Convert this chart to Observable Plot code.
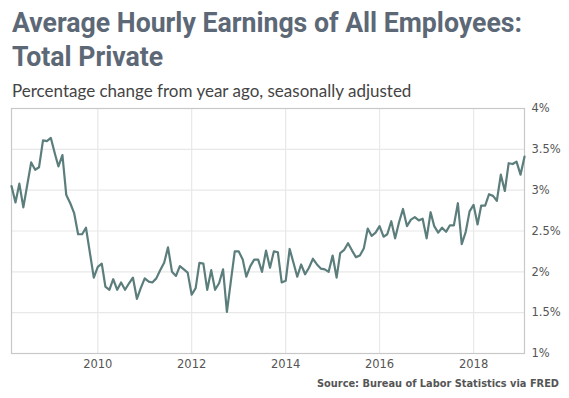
<!DOCTYPE html>
<html><head><meta charset="utf-8">
<script src="https://cdn.jsdelivr.net/npm/d3@7"></script>
<script src="https://cdn.jsdelivr.net/npm/@observablehq/plot@0.6"></script>
<style>
body{margin:0;background:#fff;width:569px;height:398px;overflow:hidden;position:relative;font-family:Lato,sans-serif}
#title{position:absolute;left:12px;top:6px;font-family:Roboto,sans-serif;font-weight:700;font-size:28px;line-height:34px;color:#5d6877;transform-origin:0 0;white-space:nowrap}
#sub{position:absolute;left:12px;top:79px;font-size:17px;line-height:24px;color:#444;font-family:Lato,sans-serif;white-space:nowrap}
#chart{position:absolute;left:0;top:100px}
#src{position:absolute;left:317px;top:378px;font-family:"DejaVu Sans",sans-serif;font-size:10px;font-weight:700;color:#555;white-space:nowrap;transform-origin:0 0}
</style></head>
<body>
<div id="title"><span id="t1">Average Hourly Earnings of All Employees:</span><br>Total Private</div>
<div id="sub">Percentage change from year ago, seasonally adjusted</div>
<div id="chart"></div>
<div id="src">Source: Bureau of Labor Statistics via FRED</div>
<script>
const startMonth = "2008-03-01";
const v2008 = [3.05,2.85,3.08,2.79,3.06,3.34,3.25,3.28,3.61,3.60];
const v2009 = [3.64,3.45,3.29,3.43,2.94,2.84,2.72,2.46,2.46,2.54,2.23,1.93];
const v2010 = [2.06,2.10,1.82,1.78,1.91,1.78,1.87,1.78,1.86,1.93,1.67,1.80];
const v2011 = [1.92,1.88,1.87,1.92,2.02,2.11,2.30,2.00,1.95,2.07,2.03,1.99];
const v2012 = [1.72,1.80,2.11,2.10,1.78,2.02,1.78,1.86,2.03,1.51,1.89,2.25];
const v2013 = [2.25,2.15,1.94,2.07,2.15,2.15,2.00,2.26,2.05,2.25,2.24,1.87];
const v2014 = [1.89,2.28,2.12,1.94,2.09,1.97,2.05,2.16,2.09,2.04,2.03,2.00];
const v2015 = [2.20,1.93,2.23,2.27,2.35,2.26,2.18,2.20,2.29,2.53,2.44,2.48];
const v2016 = [2.56,2.43,2.46,2.62,2.41,2.61,2.77,2.56,2.64,2.67,2.63,2.65];
const v2017 = [2.41,2.73,2.56,2.48,2.54,2.49,2.57,2.57,2.84,2.34,2.49,2.74];
const v2018 = [2.82,2.58,2.81,2.81,2.95,2.93,2.87,3.19,2.99,3.33,3.32,3.35];
const v2019 = [3.19,3.41];
const xTickYears = [2010, 2012, 2014, 2016, 2018];
const yTicks = [1, 1.5, 2, 2.5, 3, 3.5, 4];

const values = [].concat(v2008,v2009,v2010,v2011,v2012,v2013,v2014,v2015,v2016,v2017,v2018,v2019);
const start = new Date(startMonth + "T00:00:00Z");
const data = values.map((v, i) => ({date: d3.utcMonth.offset(start, i), value: v}));
const xTicks = xTickYears.map(y => new Date(Date.UTC(y, 0, 1)));

const chart = Plot.plot({
  width: 569,
  height: 280,
  marginTop: 8,
  marginBottom: 27,
  marginLeft: 11,
  marginRight: 45,
  style: {fontFamily: "'DejaVu Sans', sans-serif", fontSize: "11.5px", color: "#555", background: "#fff"},
  x: {type: "utc", domain: [data[0].date, data[data.length - 1].date]},
  y: {domain: [1, 4]},
  marks: [
    Plot.gridX(xTicks, {stroke: "#e8e8e8", strokeOpacity: 1, strokeWidth: 1.2}),
    Plot.gridY(yTicks, {stroke: "#e8e8e8", strokeOpacity: 1, strokeWidth: 1.2}),
    Plot.frame({stroke: "#c8c8c8", strokeWidth: 1.2}),
    Plot.axisX(xTicks, {tickSize: 0, tickPadding: 6, tickFormat: d => String(d.getUTCFullYear()), fill: "#555", label: null}),
    Plot.axisY(yTicks, {anchor: "right", tickSize: 0, tickPadding: 7, tickFormat: d => d + "%", fill: "#555", label: null}),
    Plot.lineY(data, {x: "date", y: "value", stroke: "#5b7e7c", strokeWidth: 2.2})
  ]
});
document.getElementById("chart").appendChild(chart);

// fit title and source widths to the reference
function fit(el, measureEl, target) {
  const w = measureEl.getBoundingClientRect().width;
  if (w > 0) el.style.transform = "scaleX(" + (target / w) + ")";
}
fit(document.getElementById("title"), document.getElementById("t1"), 510);
fit(document.getElementById("src"), document.getElementById("src"), 242);
</script>
</body></html>
